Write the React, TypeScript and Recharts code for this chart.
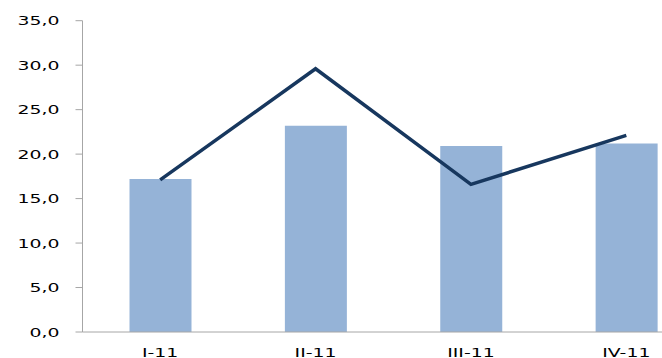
import { ComposedChart, Bar, Line, XAxis, YAxis } from 'recharts';

const quarters = ['I-11', 'II-11', 'III-11', 'IV-11'];
const barValues = [17.2, 23.2, 20.9, 21.2];
const lineValues = [17.1, 29.6, 16.6, 22.1];
const yTicks = [0, 5, 10, 15, 20, 25, 30, 35];

const chartData = quarters.map((q, i) => ({
  name: q,
  bar: barValues[i],
  line: lineValues[i],
}));

const fmt = (v: number) => v.toFixed(1).replace('.', ',');

// Excel-style stretched labels
function YTick({ x, y, payload }: any) {
  return (
    <g transform={`translate(${x},${y}) scale(1.45,1)`}>
      <text x={0} y={0} dy="0.36em" textAnchor="end" fill="#000" fontSize={13} fontFamily="DejaVu Sans">
        {fmt(payload.value)}
      </text>
    </g>
  );
}

function XTick({ x, payload }: any) {
  return (
    <g transform={`translate(${x},357) scale(1.45,1)`}>
      <text x={0} y={0} textAnchor="middle" fill="#000" fontSize={13} fontFamily="DejaVu Sans">
        {payload.value}
      </text>
    </g>
  );
}

export default function App() {
  return (
    <div style={{ position: 'absolute', top: 0, left: 0, width: 662, height: 358, overflow: 'hidden', background: '#fff' }}>
      <ComposedChart
        width={704}
        height={358}
        data={chartData}
        margin={{ top: 20.7, right: 0, bottom: 0, left: 0 }}
      >
        <XAxis
          dataKey="name"
          height={26}
          stroke="#a6a6a6"
          tickLine={false}
          tick={<XTick />}
          interval={0}
        />
        <YAxis
          width={82.5}
          domain={[0, 35]}
          ticks={yTicks}
          stroke="#a6a6a6"
          tickSize={7}
          tickMargin={16}
          tick={<YTick />}
          interval={0}
        />
        <Bar dataKey="bar" fill="#95b3d7" barSize={62} isAnimationActive={false} />
        <Line
          dataKey="line"
          type="linear"
          stroke="#17375e"
          strokeWidth={3.5}
          dot={false}
          isAnimationActive={false}
        />
      </ComposedChart>
    </div>
  );
}
